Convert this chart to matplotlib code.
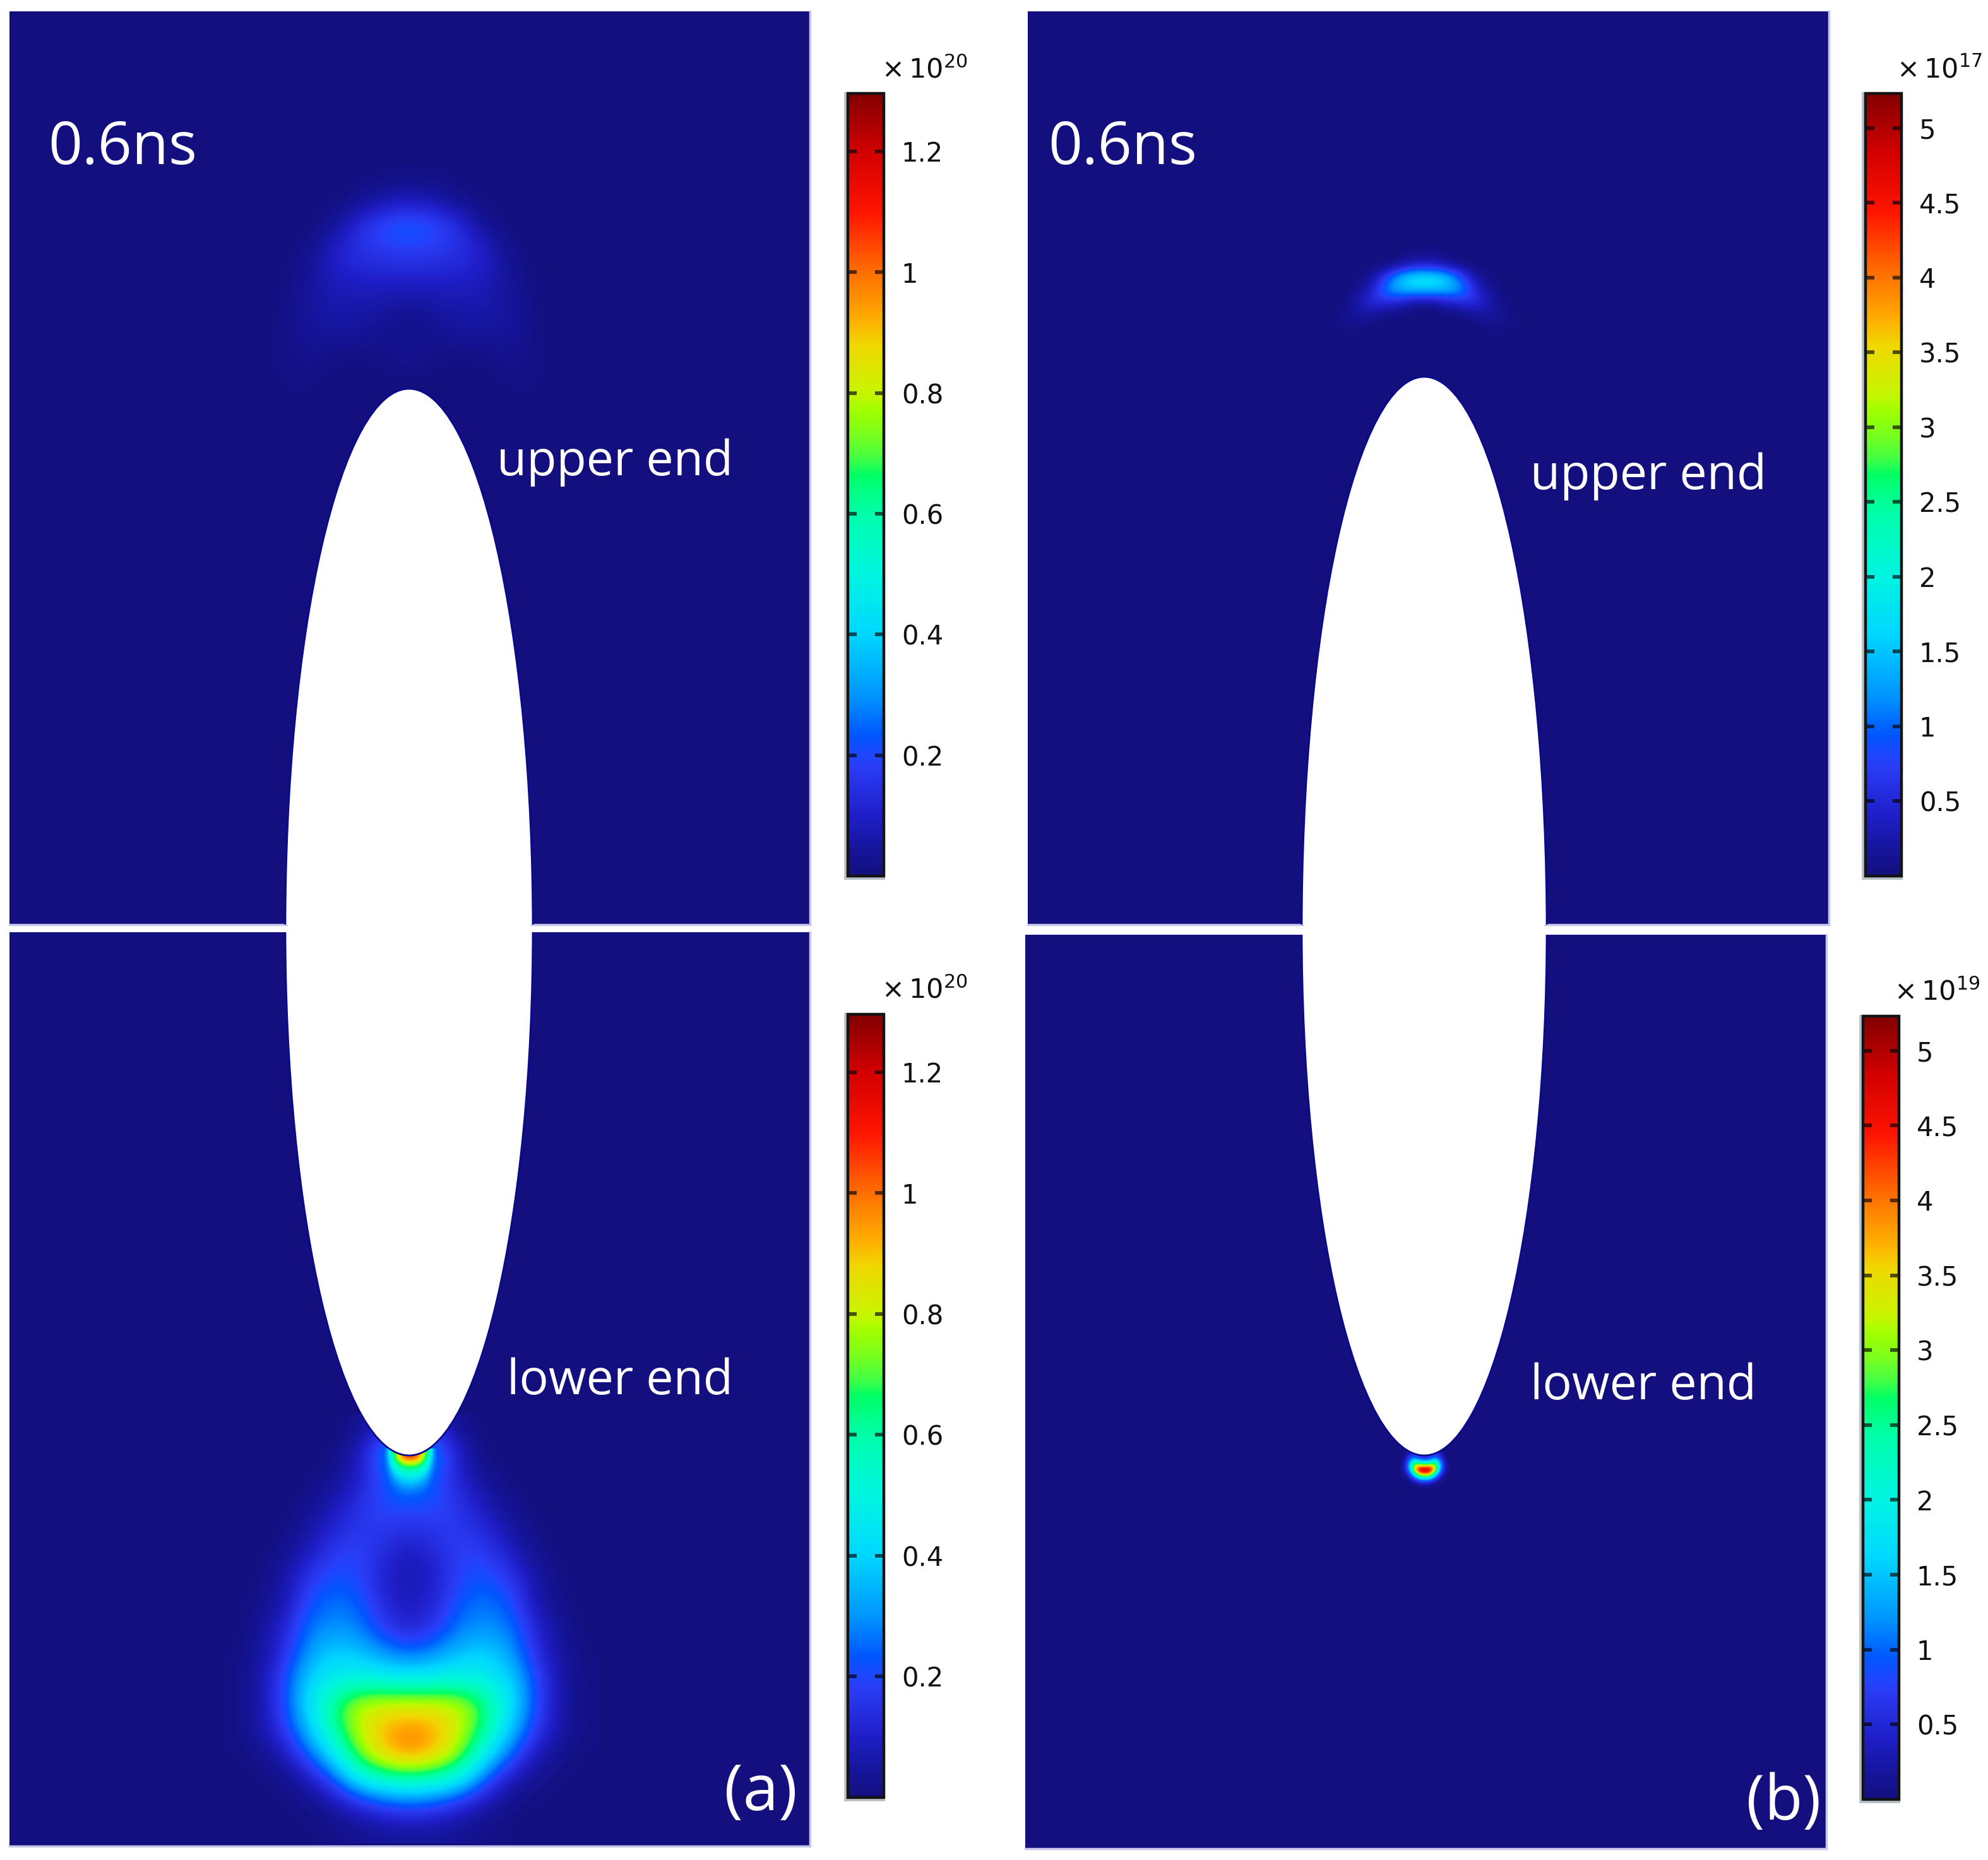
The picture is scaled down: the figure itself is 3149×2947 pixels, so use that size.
import numpy as np
import matplotlib
matplotlib.use('Agg')
import matplotlib.pyplot as plt
from matplotlib.cm import ScalarMappable
from matplotlib.colors import LinearSegmentedColormap, ListedColormap, Normalize
from matplotlib.patches import Ellipse, Rectangle

W = 3149
H = 2947

plt.rcParams['mathtext.fontset'] = 'dejavusans'

# value -> colour (a)
cmap_values = [0.0, 0.05, 0.1, 0.18, 0.2, 0.235, 0.3, 0.4, 0.5, 0.6, 0.665, 0.69,
               0.73, 0.77, 0.8, 0.88, 0.92, 1.0, 1.1, 1.2, 1.296]
cmap_colors = ['#130f7e', '#1616a0', '#1f1ec8', '#2a3cf5', '#1e46ff', '#0058ff', '#0096ff',
               '#00d7ff', '#00f5e1', '#00ffaa', '#00ff64', '#40ff46',
               '#78ff1e', '#a0ff00', '#c8f500', '#f0d700', '#ffaf00', '#ff6e00',
               '#ff1400', '#d20000', '#820000']

ticks_a = [0.2, 0.4, 0.6, 0.8, 1.0, 1.2]
tick_labels_a = ['0.2', '0.4', '0.6', '0.8', '1', '1.2']
ticks_b = [0.5, 1.0, 1.5, 2.0, 2.5, 3.0, 3.5, 4.0, 4.5, 5.0]
tick_labels_b = ['0.5', '1', '1.5', '2', '2.5', '3', '3.5', '4', '4.5', '5']
vmax_a = 1.296
vmax_b = 5.23

# half fields: first column is the axis of the particle, mirrored when drawn
upper_a_rows = [280, 320, 360, 400, 440, 480, 520, 560, 600, 640, 680]
upper_a_offsets = [0, 40, 80, 120, 160, 200, 240]
upper_a = [
    [0.008, 0.005, 0.002, 0.0, 0.0, 0.0, 0.0],
    [0.09, 0.07, 0.025, 0.003, 0.0, 0.0, 0.0],
    [0.26, 0.22, 0.15, 0.03, 0.003, 0.0, 0.0],
    [0.17, 0.165, 0.15, 0.11, 0.02, 0.002, 0.0],
    [0.11, 0.11, 0.10, 0.09, 0.035, 0.004, 0.0],
    [0.05, 0.06, 0.07, 0.065, 0.045, 0.008, 0.0],
    [0.0, 0.03, 0.05, 0.055, 0.045, 0.01, 0.0],
    [0.05, 0.015, 0.01, 0.012, 0.03, 0.01, 0.0],
    [0.0, 0.0, 0.0, 0.003, 0.012, 0.012, 0.0],
    [0.0, 0.0, 0.0, 0.0, 0.002, 0.005, 0.0],
    [0.0, 0.0, 0.0, 0.0, 0.0, 0.0, 0.0],
]

lower_a_rows = [2260, 2300, 2340, 2380, 2420, 2460, 2500, 2540, 2580, 2620, 2660, 2700, 2740,
                2780, 2820, 2860, 2900]
lower_a_offsets = [0, 40, 80, 120, 160, 200, 240, 280]
lower_a = [
    [0.10, 0.10, 0.02, 0.0, 0.0, 0.0, 0.0, 0.0],
    [0.40, 0.30, 0.08, 0.005, 0.0, 0.0, 0.0, 0.0],
    [0.38, 0.22, 0.10, 0.03, 0.005, 0.0, 0.0, 0.0],
    [0.22, 0.21, 0.15, 0.07, 0.02, 0.0, 0.0, 0.0],
    [0.15, 0.17, 0.17, 0.12, 0.05, 0.01, 0.0, 0.0],
    [0.08, 0.13, 0.19, 0.18, 0.09, 0.025, 0.0, 0.0],
    [0.07, 0.10, 0.20, 0.22, 0.17, 0.05, 0.01, 0.0],
    [0.08, 0.12, 0.24, 0.27, 0.22, 0.06, 0.015, 0.0],
    [0.11, 0.17, 0.28, 0.30, 0.27, 0.12, 0.03, 0.0],
    [0.25, 0.30, 0.37, 0.40, 0.32, 0.14, 0.04, 0.005],
    [0.47, 0.48, 0.50, 0.47, 0.40, 0.20, 0.05, 0.01],
    [0.82, 0.82, 0.80, 0.65, 0.44, 0.20, 0.05, 0.01],
    [0.97, 0.93, 0.80, 0.62, 0.37, 0.17, 0.05, 0.01],
    [0.97, 0.90, 0.74, 0.45, 0.24, 0.07, 0.02, 0.005],
    [0.58, 0.55, 0.46, 0.22, 0.07, 0.02, 0.005, 0.0],
    [0.22, 0.19, 0.12, 0.05, 0.015, 0.005, 0.0, 0.0],
    [0.04, 0.04, 0.03, 0.015, 0.005, 0.0, 0.0, 0.0],
]

tip_a_rows = [2300, 2310, 2320, 2330, 2340, 2350, 2360, 2370]
tip_a_offsets = [0, 10, 20, 30, 40, 50]
tip_a = [
    [1.15, 1.05, 0.85, 0.55, 0.30, 0.18],
    [1.05, 1.00, 0.80, 0.50, 0.30, 0.18],
    [0.75, 0.72, 0.62, 0.45, 0.28, 0.18],
    [0.58, 0.56, 0.50, 0.40, 0.26, 0.18],
    [0.46, 0.45, 0.42, 0.35, 0.22, 0.15],
    [0.40, 0.39, 0.36, 0.30, 0.20, 0.15],
    [0.33, 0.32, 0.30, 0.26, 0.18, 0.15],
    [0.26, 0.25, 0.24, 0.20, 0.15, 0.12],
]

upper_b_rows = [400, 420, 440, 460, 480, 500, 520, 540]
upper_b_offsets = [0, 20, 40, 60, 80, 100, 120, 140]
upper_b = [
    [0.05, 0.03, 0.0, 0.0, 0.0, 0.0, 0.0, 0.0],
    [0.40, 0.35, 0.15, 0.03, 0.0, 0.0, 0.0, 0.0],
    [1.90, 1.85, 1.50, 0.85, 0.25, 0.05, 0.0, 0.0],
    [1.50, 1.45, 1.40, 1.20, 0.55, 0.20, 0.03, 0.0],
    [0.05, 0.15, 0.35, 0.50, 0.55, 0.35, 0.08, 0.01],
    [0.0, 0.0, 0.02, 0.02, 0.12, 0.20, 0.15, 0.03],
    [0.0, 0.0, 0.0, 0.0, 0.0, 0.03, 0.06, 0.03],
    [0.0, 0.0, 0.0, 0.0, 0.0, 0.0, 0.01, 0.01],
]

lower_b_rows = [2304, 2312, 2320, 2328, 2336, 2344, 2352, 2360]
lower_b_offsets = [0, 8, 16, 24, 32, 40]
lower_b = [
    [0.3, 0.4, 0.5, 0.4, 0.0, 0.0],
    [0.7, 0.9, 1.5, 1.0, 0.15, 0.0],
    [2.6, 2.8, 3.2, 1.5, 0.3, 0.0],
    [5.4, 5.2, 3.6, 1.4, 0.3, 0.0],
    [3.8, 3.5, 1.9, 0.7, 0.1, 0.0],
    [1.3, 1.1, 0.6, 0.15, 0.0, 0.0],
    [0.2, 0.15, 0.05, 0.0, 0.0, 0.0],
    [0.0, 0.0, 0.0, 0.0, 0.0, 0.0],
]

cmap = LinearSegmentedColormap.from_list(
    'rainbow_bar', [(v / vmax_a, c) for v, c in zip(cmap_values, cmap_colors)], N=1024)
base_color = cmap(0.0)

# same colours, fading out below 0.45, for the tip spot on top of the plume
tip_colors = cmap(np.linspace(0, 1, 1024))
tip_colors[:, 3] = np.clip((np.linspace(0, vmax_a, 1024) - 0.25) / 0.2, 0, 1)
tip_cmap = ListedColormap(tip_colors)

fig = plt.figure(figsize=(W / 100, H / 100), dpi=100, facecolor='white')


def px_axes(x0, y0, x1, y1):
    ax = fig.add_axes([x0 / W, 1 - y1 / H, (x1 - x0) / W, (y1 - y0) / H])
    return ax


def draw_field(ax, cx, offsets, rows, values, cm, vmax):
    half = np.array(values)
    full = np.hstack([half[:, :0:-1], half])
    dx = offsets[1] - offsets[0]
    dy = rows[1] - rows[0]
    extent = [cx - offsets[-1] - dx / 2, cx + offsets[-1] + dx / 2,
              rows[-1] + dy / 2, rows[0] - dy / 2]
    ax.imshow(full, extent=extent, origin='upper', cmap=cm, norm=Normalize(0, vmax),
              interpolation='bicubic', interpolation_stage='data', aspect='auto', zorder=1)


def panel(box, cx, half_width, cy, semi_major):
    x0, y0, x1, y1 = box
    ax = px_axes(x0, y0, x1, y1)
    ax.set_facecolor(base_color)
    ax.set_xticks([])
    ax.set_yticks([])
    for side in ['left', 'top']:
        ax.spines[side].set_visible(False)
    for side in ['right', 'bottom']:
        ax.spines[side].set_color('#c6c6ea')
        ax.spines[side].set_linewidth(2.5)
    ax.add_patch(Ellipse((cx, cy), 2 * half_width + 2, 2 * semi_major + 2, facecolor='white',
                         edgecolor='#0a0a8c', linewidth=2.0, zorder=3))
    ax.set_xlim(x0, x1)
    ax.set_ylim(y1, y0)
    return ax


def color_bar(box, vmax, ticks, labels, power, label_x, label_y):
    x0, y0, x1, y1 = box
    fig.add_artist(Rectangle((x0 - 6, H - y1 - 6), x1 - x0 + 8, y1 - y0 + 8,
                             transform=None, facecolor='#b9c2c8', edgecolor='none', zorder=-1))
    cax = px_axes(x0, y0, x1, y1)
    cb = fig.colorbar(ScalarMappable(Normalize(0, vmax), cmap), cax=cax, ticks=ticks)
    cb.set_ticklabels(labels)
    cb.outline.set_linewidth(3.2)
    cb.outline.set_edgecolor('#141414')
    cax.tick_params(axis='y', direction='in', left=True, right=True, length=10, width=4.2,
                    color=(0, 0, 0, 0.65), pad=20, labelsize=30, labelcolor='#111111')
    cax.minorticks_off()
    fig.text(label_x / W, 1 - label_y / H, r'$\times\,10^{%d}$' % power, fontsize=31,
             color='#111111', ha='left', va='baseline')


def white_text(x, y, s, size):
    fig.text(x / W, 1 - y / H, s, color='white', fontsize=size, family='Open Sans',
             ha='left', va='baseline', zorder=5)


ax = panel((15, 18, 1283, 1465), 648, 195, 1471, 854)
draw_field(ax, 648, upper_a_offsets, upper_a_rows, upper_a, cmap, vmax_a)

ax = panel((15, 1477, 1283, 2925), 648, 195, 1471, 834)
draw_field(ax, 650, lower_a_offsets, lower_a_rows, lower_a, cmap, vmax_a)
draw_field(ax, 650, tip_a_offsets, tip_a_rows, tip_a, tip_cmap, vmax_a)

ax = panel((1628, 18, 2897, 1465), 2256, 193, 1473, 875)
draw_field(ax, 2257, upper_b_offsets, upper_b_rows, upper_b, cmap, vmax_b)

ax = panel((1624, 1481, 2893, 2929), 2256, 193, 1473, 832)
draw_field(ax, 2257, lower_b_offsets, lower_b_rows, lower_b, cmap, vmax_b)

# the particle runs unbroken through the frame line between upper and lower panels
fig.add_artist(Rectangle((648 - 192, H - 1470), 384, 10, transform=None,
                         facecolor='white', edgecolor='none', zorder=4))
fig.add_artist(Rectangle((2256 - 190, H - 1470), 380, 10, transform=None,
                         facecolor='white', edgecolor='none', zorder=4))

color_bar((1343, 148, 1400, 1388), vmax_a, ticks_a, tick_labels_a, 20, 1396, 123)
color_bar((1343, 1607, 1400, 2848), vmax_a, ticks_a, tick_labels_a, 20, 1396, 1582)
color_bar((2955, 148, 3012, 1388), vmax_b, ticks_b, tick_labels_b, 17, 3004, 123)
color_bar((2951, 1610, 3008, 2851), vmax_b, ticks_b, tick_labels_b, 19, 3000, 1584)

white_text(76, 260, '0.6ns', 68)
white_text(1660, 260, '0.6ns', 68)
white_text(787, 753, 'upper end', 55.5)
white_text(803, 2209, 'lower end', 55.5)
white_text(2424, 775, 'upper end', 55.5)
white_text(2424, 2217, 'lower end', 55.5)
white_text(1147, 2868, '(a)', 73)
white_text(2766, 2883, '(b)', 71)

fig.savefig('out.png', dpi=100)
